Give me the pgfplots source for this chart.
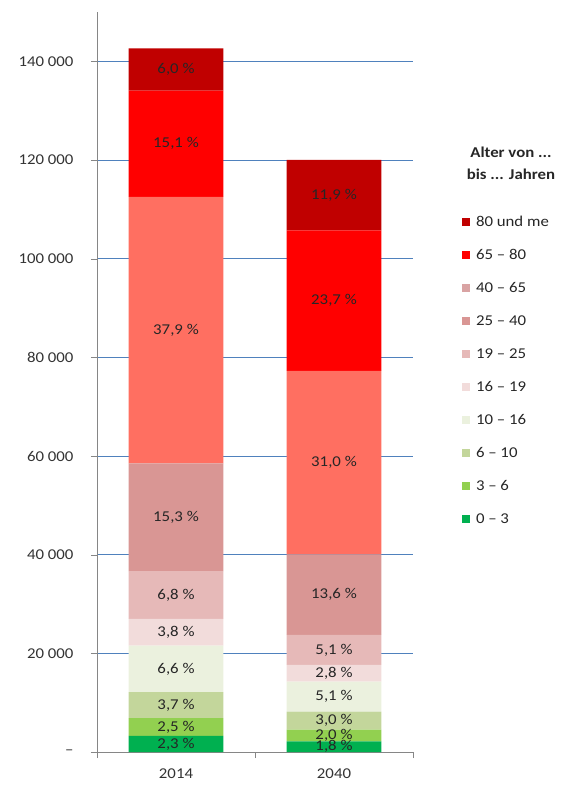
\documentclass[border=0pt]{standalone}
\usepackage{pgfplots}
\pgfplotsset{compat=1.18}
\usepackage{fontspec}
\setmainfont{Carlito}[FakeStretch=1.12]
\definecolor{cA}{HTML}{00B050}
\definecolor{cB}{HTML}{92D050}
\definecolor{cC}{HTML}{C3D69B}
\definecolor{cD}{HTML}{EBF1DE}
\definecolor{cE}{HTML}{F2DCDB}
\definecolor{cF}{HTML}{E6B9B8}
\definecolor{cG}{HTML}{D99694}
\definecolor{cH}{HTML}{FF6F61}
\definecolor{cHleg}{HTML}{D9A3A3}
\definecolor{cI}{HTML}{FF0000}
\definecolor{cJ}{HTML}{C00000}
\definecolor{gridblue}{HTML}{4F81BD}
\definecolor{axisgray}{HTML}{868686}
\pgfplotsset{
  sq/.style={legend image code/.code={\fill[##1] (0pt,-4pt) rectangle (8pt,4pt);}},
  sqc/.style={legend image code/.code={\fill[fill=#1] (0pt,-4pt) rectangle (8pt,4pt);}},
}
\begin{document}
\begin{tikzpicture}
\path[use as bounding box] (-97pt,-33pt) rectangle (469pt,752pt);
\begin{axis}[
  scale only axis, width=316pt, height=740pt,
  clip=false,
  ybar stacked, bar width=0.6,
  xmin=-0.5, xmax=1.5, ymin=0, ymax=150,
  axis x line*=bottom, axis y line*=left,
  axis line style={draw=axisgray},
  tick align=outside, major tick length=6pt,
  tick style={draw=axisgray},
  xtick={-0.5,0.5,1.5}, xticklabels={},
  extra x ticks={0,1}, extra x tick labels={2014,2040},
  extra x tick style={major tick length=0pt, tick label style={yshift=-13pt}},
  ytick={0,20,...,140},
  yticklabels={–,20 000,40 000,60 000,80 000,100 000,120 000,140 000},
  yticklabel style={xshift=-14pt},
  ymajorgrids, grid style={draw=gridblue, line width=0.6pt},
  tick label style={font=\fontsize{15}{17}\selectfont, text=black!80},
  point meta=explicit symbolic,
  nodes near coords,
  every node near coord/.append style={anchor=center, font=\fontsize{15}{17}\selectfont, text=black!85},
  reverse legend,
  legend cell align=left,
  legend style={at={(rel axis cs:1.145,0.730)}, anchor=north west, draw=none, fill=none,
    row sep=17.5pt, font=\fontsize{15}{17}\selectfont, nodes={inner sep=2pt, text=black!85},
    /tikz/every odd column/.append style={column sep=4pt}},
]
\addplot[fill=cA, draw=none, sq] coordinates {(0,3.28) [2,3 \%] (1,2.16) [1,8 \%]};
\addplot[fill=cB, draw=none, sq] coordinates {(0,3.57) [2,5 \%] (1,2.40) [2,0 \%]};
\addplot[fill=cC, draw=none, sq] coordinates {(0,5.28) [3,7 \%] (1,3.60) [3,0 \%]};
\addplot[fill=cD, draw=none, sq] coordinates {(0,9.41) [6,6 \%] (1,6.12) [5,1 \%]};
\addplot[fill=cE, draw=none, sq] coordinates {(0,5.42) [3,8 \%] (1,3.36) [2,8 \%]};
\addplot[fill=cF, draw=none, sq] coordinates {(0,9.70) [6,8 \%] (1,6.12) [5,1 \%]};
\addplot[fill=cG, draw=none, sq] coordinates {(0,21.82) [15,3 \%] (1,16.32) [13,6 \%]};
\addplot[fill=cH, draw=none, sqc=cHleg] coordinates {(0,54.05) [37,9 \%] (1,37.20) [31,0 \%]};
\addplot[fill=cI, draw=none, sq] coordinates {(0,21.53) [15,1 \%] (1,28.44) [23,7 \%]};
\addplot[fill=cJ, draw=none, sq] coordinates {(0,8.56) [6,0 \%] (1,14.28) [11,9 \%]};
\legend{0 – 3, 3 – 6, 6 – 10, 10 – 16, 16 – 19, 19 – 25, 25 – 40, 40 – 65, 65 – 80, 80 und me}
\node[font=\bfseries\fontsize{15}{22}\selectfont, align=center, text=black!85] at (rel axis cs:1.31,0.795) {Alter von ...\\bis ... Jahren};
\end{axis}
\end{tikzpicture}
\end{document}
